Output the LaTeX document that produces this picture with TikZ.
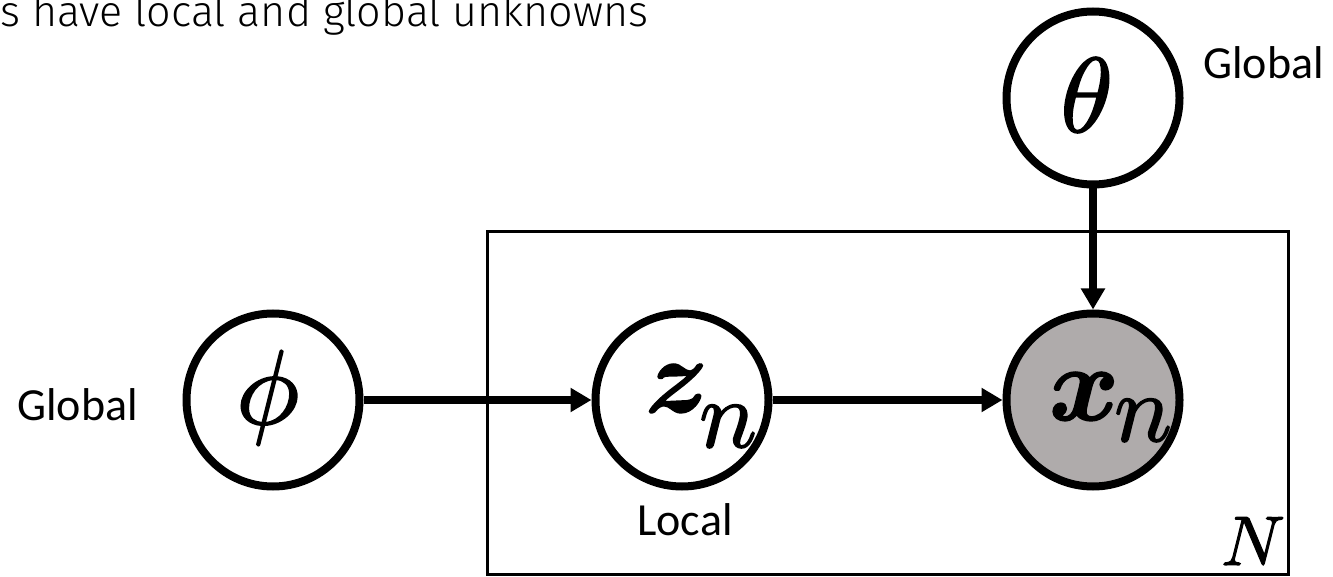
\documentclass[tikz,border=0pt]{standalone}
\usepackage{fontspec}
\usepackage{unicode-math}
\setmathfont{Latin Modern Math}[FakeBold=1.6]
\newfontfamily\labelfont{Carlito}
\newfontfamily\titlefont{Fira Sans Light}
\usetikzlibrary{arrows.meta}
\definecolor{obsgray}{RGB}{175,171,171}

\begin{document}
\begin{tikzpicture}[x=1pt,y=-1pt,
  var/.style={circle, draw, line width=8pt, minimum size=173pt, inner sep=0pt, fill=white},
  obs/.style={var, fill=obsgray},
  edge/.style={line width=7.5pt, -{Triangle[length=21pt,width=23pt]}},
  platebox/.style={draw, line width=2.5pt, minimum width=801pt, minimum height=343pt, inner sep=0pt},
  bigsym/.style={inner sep=0pt, font=\fontsize{106}{106}\selectfont},
  subsym/.style={inner sep=0pt, font=\fontsize{96}{96}\selectfont},
  tag/.style={inner sep=0pt, font=\labelfont\fontsize{46}{46}\selectfont},
  headline/.style={inner sep=0pt, font=\titlefont\fontsize{43}{43}\selectfont}
]
\useasboundingbox (0,0) rectangle (1333,577);
\clip (0,0) rectangle (1333,577);

% heading (runs off the top-left edge)
\node[headline, anchor=base west] (title) at (0,27) {s have local and global unknowns};

% plate over the N data points
\node[platebox] (plate) at (888,403) {};
\node[inner sep=0pt, anchor=base west, font=\fontsize{70}{70}\selectfont] (N) at (1221,565) {$N$};

% random variables
\node[var] (phi) at (273,400) {};
\node[var] (z) at (682,400) {};
\node[obs] (x) at (1093,400) {};
\node[var] (theta) at (1093,98) {};

% symbols inside the circles
\node[bigsym] (phisym) at (268,398) {$\phi$};
\node[bigsym] (thetasym) at (1086,95) {$\theta$};
\node[bigsym, anchor=base west] (zsym) at (645,412) {$\symbfit{z}$};
\node[subsym, anchor=base west] (zsub) at (699,447) {$n$};
\node[bigsym, anchor=base west] (xsym) at (1049,420) {$\symbfit{x}$};
\node[subsym, anchor=base west] (xsub) at (1114,441) {$n$};

% labels
\node[tag, anchor=base west] (gphi) at (17,420) {Global};
\node[tag, anchor=base west] (gtheta) at (1203,79) {Global};
\node[tag, anchor=base] (loc) at (685,535) {Local};

% dependencies
\draw[edge] (phi) -- (z);
\draw[edge] (z) -- (x);
\draw[edge] (theta) -- (x);
\end{tikzpicture}
\end{document}
